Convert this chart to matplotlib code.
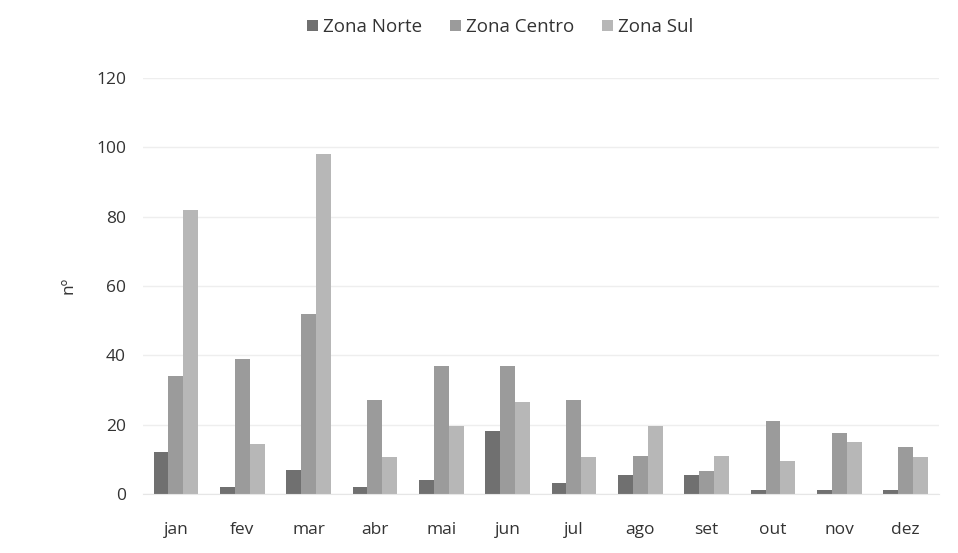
import numpy as np
import matplotlib.pyplot as plt

meses = ['jan', 'fev', 'mar', 'abr', 'mai', 'jun', 'jul', 'ago', 'set', 'out', 'nov', 'dez']
zona_norte = [12, 2, 7, 2, 4, 18, 3, 5.5, 5.5, 1, 1, 1]
zona_centro = [34, 39, 52, 27, 37, 37, 27, 11, 6.5, 21, 17.5, 13.5]
zona_sul = [82, 14.5, 98, 10.5, 19.5, 26.5, 10.5, 19.5, 11, 9.5, 15, 10.5]

plt.rcParams['font.family'] = ['Open Sans', 'DejaVu Sans']

fig = plt.figure(figsize=(9.58, 5.53), dpi=100)
ax = fig.add_axes([0.149, 0.107, 0.831, 0.752])

x = np.arange(len(meses))
w = 0.225
ax.bar(x - w, zona_norte, w, color='#707070', label='Zona Norte')
ax.bar(x, zona_centro, w, color='#9b9b9b', label='Zona Centro')
ax.bar(x + w, zona_sul, w, color='#b7b7b7', label='Zona Sul')

ax.set_xlim(-0.5, len(meses) - 0.5)
ax.set_ylim(0, 120)
ax.set_yticks(range(0, 121, 20))
ax.set_xticks(x)
ax.set_xticklabels(meses)
ax.tick_params(axis='both', length=0, labelsize=12.5, colors='#333333')
ax.tick_params(axis='x', pad=20)
ax.tick_params(axis='y', pad=12)
ax.yaxis.grid(True, color='#eeeeee', linewidth=1)
ax.set_axisbelow(True)
for s in ['top', 'right', 'left']:
    ax.spines[s].set_visible(False)
ax.spines['bottom'].set_color('#e6e6e6')
ax.set_ylabel('nº', fontsize=12.5, color='#333333', labelpad=14)

fig.legend(loc='center', bbox_to_anchor=(0.522, 0.951), ncol=3, frameon=False,
           fontsize=13.5, handlelength=0.6, handleheight=0.6, handletextpad=0.25,
           columnspacing=1.5, labelcolor='#333333')

fig.savefig('out.png', dpi=100)
